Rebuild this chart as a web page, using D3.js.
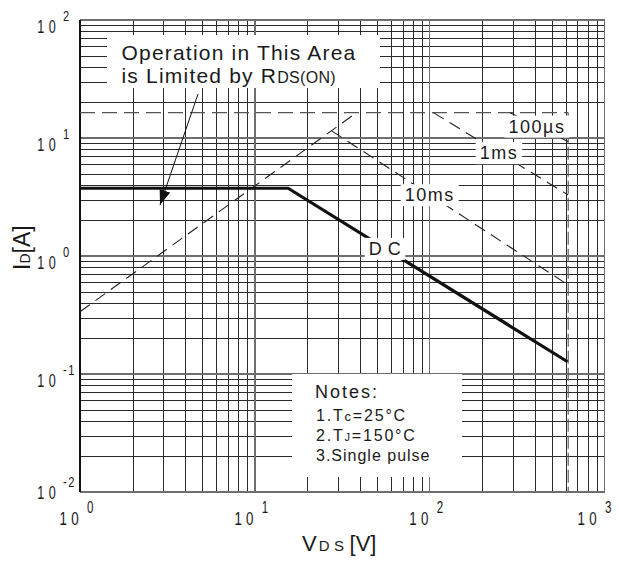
<!DOCTYPE html>
<html>
<head>
<meta charset="utf-8">
<script src="https://cdn.jsdelivr.net/npm/d3@7"></script>
<style>
  html, body { margin: 0; padding: 0; background: #fff; }
  svg { display: block; }
  text { font-family: "Liberation Sans", Arial, Helvetica, sans-serif; fill: #1a1a1a; }
</style>
</head>
<body>
<svg id="chart" width="619" height="572"></svg>
<script>
// Decade ticks and their exponent labels
const xDecades = [1, 10, 100, 1000];
const xExponents = ["0", "1", "2", "3"];
const yDecades = [0.01, 0.1, 1, 10, 100];
const yExponents = ["-2", "-1", "0", "1", "2"];

// Safe operating area boundaries, [VDS (V), ID (A)]
const dcLine = [[1, 3.75], [15.5, 3.75], [615, 0.127]];
const rdsOnLimit = [[1, 0.337], [38.2, 16.4]];
const pulseCurrentLimit = [[1, 16.4], [620, 16.4]];
const voltageLimit = [[620, 16.4], [620, 0.01]];
const pulse100us = [[288, 16.4], [620, 9.3]];
const pulse1ms = [[105, 16.4], [620, 3.29]];
const pulse10ms = [[27.5, 11.5], [620, 0.568]];

// Curve names, placed on their curve at the given VDS
const curveLabels = [
  { text: "100µs", curve: pulse100us, at: 411 },
  { text: "1ms", curve: pulse1ms, at: 249 },
  { text: "10ms", curve: pulse10ms, at: 100 },
  { text: "D C", curve: dcLine, at: 55.5 }
];

const W = 619, H = 572;
const margin = { left: 80, right: 14.5, top: 20, bottom: 80 };
const svg = d3.select("#chart");
svg.append("rect").attr("width", W).attr("height", H).attr("fill", "#fff");

const x = d3.scaleLog().domain([1, 1000]).range([margin.left, W - margin.right]);
const y = d3.scaleLog().domain([0.01, 100]).range([H - margin.bottom, margin.top]);
const [x0, x1] = x.range();
const [y0, y1] = y.range();

// ---- grid ----
const minor = (decs) => decs.slice(0, -1).flatMap(d => d3.range(2, 10).map(k => d * k));
const grid = svg.append("g").attr("shape-rendering", "crispEdges");
grid.selectAll(".vx").data(minor(xDecades)).join("line")
  .attr("x1", d => Math.round(x(d)) + 0.5).attr("x2", d => Math.round(x(d)) + 0.5)
  .attr("y1", y1).attr("y2", y0)
  .attr("stroke", "#2b2b2b").attr("stroke-width", 1);
grid.selectAll(".hy").data(minor(yDecades)).join("line")
  .attr("y1", d => Math.round(y(d)) + 0.5).attr("y2", d => Math.round(y(d)) + 0.5)
  .attr("x1", x0).attr("x2", x1)
  .attr("stroke", "#2b2b2b").attr("stroke-width", 1);
grid.selectAll(".vd").data(xDecades).join("line")
  .attr("x1", d => x(d)).attr("x2", d => x(d))
  .attr("y1", y1).attr("y2", y0)
  .attr("stroke", "#6e6e6e").attr("stroke-width", 1.6);
grid.selectAll(".hd").data(yDecades).join("line")
  .attr("y1", d => y(d)).attr("y2", d => y(d))
  .attr("x1", x0).attr("x2", x1)
  .attr("stroke", "#6e6e6e").attr("stroke-width", 1.6);
grid.append("line").attr("x1", x0).attr("x2", x0).attr("y1", y1).attr("y2", y0)
  .attr("stroke", "#111").attr("stroke-width", 1.4);

// ---- annotation panels (cover the grid) ----
svg.append("rect").attr("x", 107).attr("y", 35).attr("width", 273).attr("height", 53).attr("fill", "#fff");
svg.append("rect").attr("x", 292).attr("y", 374).attr("width", 170).attr("height", 103).attr("fill", "#fff");

// ---- curves ----
const line = d3.line().x(d => x(d[0])).y(d => y(d[1]));
const dashed = [
  { data: rdsOnLimit, color: "#222", dash: "12,7" },
  { data: pulseCurrentLimit, color: "#555", dash: "15,7" },
  { data: voltageLimit, color: "#555", dash: "13,4" },
  { data: pulse100us, color: "#222", dash: "12,7" },
  { data: pulse1ms, color: "#222", dash: "12,7" },
  { data: pulse10ms, color: "#222", dash: "12,7" }
];
svg.append("g").selectAll("path").data(dashed).join("path")
  .attr("d", d => line(d.data)).attr("fill", "none")
  .attr("stroke", d => d.color).attr("stroke-width", 1.1)
  .attr("stroke-dasharray", d => d.dash);
svg.append("path").attr("d", line(dcLine)).attr("fill", "none")
  .attr("stroke", "#111").attr("stroke-width", 3.2);

// ---- curve labels ----
function valueOn(curve, vx) {
  const lx = Math.log10(vx);
  for (let i = 0; i < curve.length - 1; i++) {
    const a = Math.log10(curve[i][0]), b = Math.log10(curve[i + 1][0]);
    if (lx >= Math.min(a, b) && lx <= Math.max(a, b) && a !== b) {
      const t = (lx - a) / (b - a);
      return Math.pow(10, Math.log10(curve[i][1]) + t * (Math.log10(curve[i + 1][1]) - Math.log10(curve[i][1])));
    }
  }
  return curve[curve.length - 1][1];
}
const lg = svg.append("g");
curveLabels.forEach(l => {
  const cx = x(l.at), cy = y(valueOn(l.curve, l.at));
  const g = lg.append("g");
  const bg = g.append("rect").attr("fill", "#fff");
  const t = g.append("text").attr("x", cx).attr("y", cy + 6.5)
    .attr("text-anchor", "middle").attr("font-size", 18)
    .attr("letter-spacing", l.text === "D C" ? 0.5 : 1.5).text(l.text);
  const bb = t.node().getBBox();
  bg.attr("x", bb.x - 4).attr("y", bb.y - 1).attr("width", bb.width + 8).attr("height", bb.height + 2);
});

// ---- axis tick labels (condensed digits) ----
const ticks = svg.append("g");
function narrow(px, py, str, size, anchor, spacing) {
  ticks.append("text")
    .attr("transform", `translate(${px},${py}) scale(0.72,1)`)
    .attr("text-anchor", anchor).attr("font-size", size)
    .attr("letter-spacing", spacing).text(str);
}
xDecades.forEach((d, i) => {
  // keep the last exponent inside the canvas
  const shift = Math.min(0, (W - 14) - (x(d) + 7));
  narrow(x(d) + 3 + shift, 525, "10", 18.5, "end", 6);
  narrow(x(d) + 7 + shift, 513, xExponents[i], 16, "start", 0);
});
yDecades.forEach((d, i) => {
  const base = Math.min(y(d) + 13, y0 + 7);
  const sup = Math.min(y(d) + 1, y0 - 5);
  narrow(60, base, "10", 17.5, "end", 6);
  narrow(63, sup, yExponents[i], 15.5, "start", 2);
});

// ---- axis titles ----
const xt = svg.append("text").attr("x", 302).attr("y", 551).attr("font-size", 22);
xt.append("tspan").text("V");
xt.append("tspan").attr("font-size", 15).attr("letter-spacing", 4.5).attr("dx", 2).text("DS");
xt.append("tspan").attr("dx", 1).text("[V]");

const yt = svg.append("text").attr("transform", "translate(30,270) rotate(-90)").attr("font-size", 23);
yt.append("tspan").text("I");
yt.append("tspan").attr("font-size", 14).text("D");
yt.append("tspan").text("[A]");

// ---- RDS(on) note with arrow ----
svg.append("text").attr("x", 121.5).attr("y", 60).attr("font-size", 21).attr("letter-spacing", 1.2)
  .text("Operation in This Area");
const l2 = svg.append("text").attr("x", 121.5).attr("y", 83).attr("font-size", 21).attr("letter-spacing", 1.2);
l2.append("tspan").text("is Limited by R");
l2.append("tspan").attr("font-size", 16).attr("letter-spacing", 0.3).text("DS(ON)");

svg.append("defs").append("marker").attr("id", "arrow")
  .attr("viewBox", "0 0 15 11").attr("refX", 15).attr("refY", 5.5)
  .attr("markerWidth", 15).attr("markerHeight", 11).attr("markerUnits", "userSpaceOnUse")
  .attr("orient", "auto")
  .append("path").attr("d", "M0,0 L15,5.5 L0,11 Z").attr("fill", "#111");
svg.append("line").attr("x1", 198).attr("y1", 94).attr("x2", 160).attr("y2", 205)
  .attr("stroke", "#111").attr("stroke-width", 1).attr("marker-end", "url(#arrow)");

// ---- notes ----
svg.append("text").attr("x", 315).attr("y", 398).attr("font-size", 18).attr("letter-spacing", 2).text("Notes:");
const n1 = svg.append("text").attr("x", 316).attr("y", 420.5).attr("font-size", 16).attr("letter-spacing", 1.8);
n1.append("tspan").text("1.T");
n1.append("tspan").attr("font-size", 13).text("c");
n1.append("tspan").text("=25°C");
const n2 = svg.append("text").attr("x", 316).attr("y", 440.5).attr("font-size", 16).attr("letter-spacing", 1.8);
n2.append("tspan").text("2.T");
n2.append("tspan").attr("font-size", 11).text("J");
n2.append("tspan").text("=150°C");
svg.append("text").attr("x", 316).attr("y", 460.5).attr("font-size", 16).attr("letter-spacing", 1)
  .text("3.Single pulse");
</script>
</body>
</html>
